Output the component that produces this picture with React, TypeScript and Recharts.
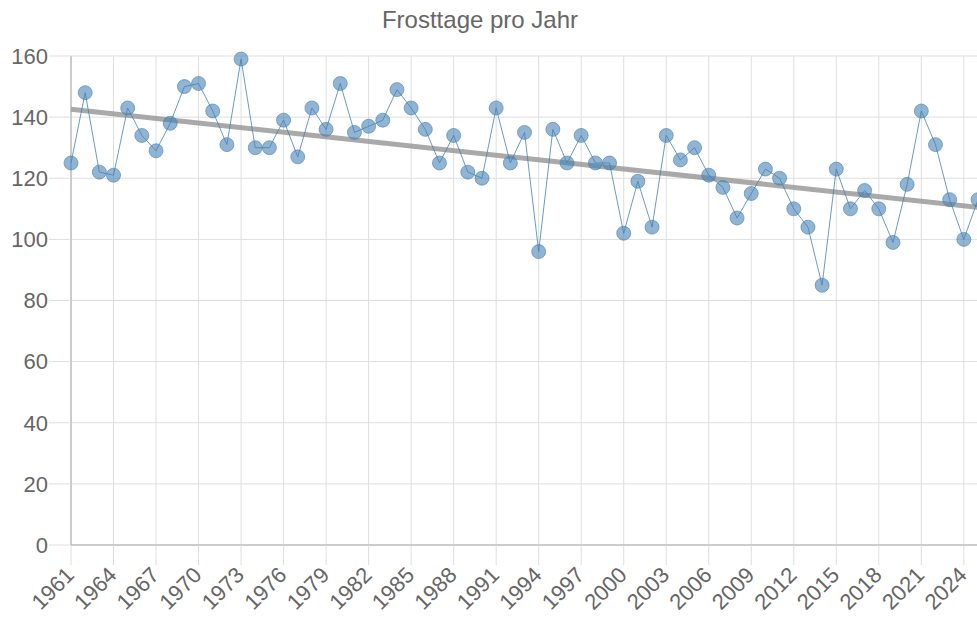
import React from 'react'
import { CartesianGrid, Line, LineChart, XAxis, YAxis } from 'recharts'

// Frosttage pro Jahr, 1961 - 2025
const years = [
  1961, 1962, 1963, 1964, 1965, 1966, 1967, 1968, 1969, 1970,
  1971, 1972, 1973, 1974, 1975, 1976, 1977, 1978, 1979, 1980,
  1981, 1982, 1983, 1984, 1985, 1986, 1987, 1988, 1989, 1990,
  1991, 1992, 1993, 1994, 1995, 1996, 1997, 1998, 1999, 2000,
  2001, 2002, 2003, 2004, 2005, 2006, 2007, 2008, 2009, 2010,
  2011, 2012, 2013, 2014, 2015, 2016, 2017, 2018, 2019, 2020,
  2021, 2022, 2023, 2024, 2025,
]

const frostDays = [
  125, 148, 122, 121, 143, 134, 129, 138, 150, 151,
  142, 131, 159, 130, 130, 139, 127, 143, 136, 151,
  135, 137, 139, 149, 143, 136, 125, 134, 122, 120,
  143, 125, 135, 96, 136, 125, 134, 125, 125, 102,
  119, 104, 134, 126, 130, 121, 117, 107, 115, 123,
  120, 110, 104, 85, 123, 110, 116, 110, 99, 118,
  142, 131, 113, 100, 113,
]

// linear trend, start and end
const trendYears = [1961, 2025]
const trendValues = [142.6, 110.5]

const xTicks = [
  1961, 1964, 1967, 1970, 1973, 1976, 1979, 1982, 1985, 1988, 1991,
  1994, 1997, 2000, 2003, 2006, 2009, 2012, 2015, 2018, 2021, 2024,
]
const yTicks = [0, 20, 40, 60, 80, 100, 120, 140, 160]

const data = years.map((year, i) => ({ year, days: frostDays[i] }))
const trendData = trendYears.map((year, i) => ({ year, trend: trendValues[i] }))

const font = '"Liberation Sans", Arial, sans-serif'

const YearTick = ({ x, y, payload }: any) => (
  <g transform={`translate(${x - 1},${y + 4}) rotate(-45)`}>
    <text x={0} y={0} dy="0.35em" textAnchor="end" fill="#666" fontSize={22} fontFamily={font}>
      {payload.value}
    </text>
  </g>
)

const App = () => {
  return (
    <div style={{ position: 'fixed', left: 0, top: 0, width: 977, height: 617, overflow: 'hidden', background: '#fff' }}>
      <div
        style={{
          position: 'absolute', left: 0, top: 5, width: 960, textAlign: 'center',
          fontFamily: font, fontSize: 24, lineHeight: '30px', color: '#666',
        }}
      >
        Frosttage pro Jahr
      </div>
      <LineChart width={1000} height={617} data={data} margin={{ top: 56, right: 22, bottom: 0, left: 0 }}>
        <CartesianGrid stroke="#dedede" strokeWidth={1} />
        <XAxis
          dataKey="year"
          type="number"
          domain={[1961, 2025]}
          ticks={xTicks}
          interval={0}
          height={72}
          tickSize={20}
          tickMargin={2}
          tick={<YearTick />}
          axisLine={{ stroke: '#a8a8a8' }}
          tickLine={{ stroke: '#dedede' }}
        />
        <YAxis
          domain={[0, 160]}
          ticks={yTicks}
          width={71}
          tickSize={22}
          tickMargin={1}
          tick={{ fill: '#666', fontSize: 22, fontFamily: font }}
          axisLine={{ stroke: '#a8a8a8' }}
          tickLine={{ stroke: '#dedede' }}
        />
        <Line
          data={trendData}
          dataKey="trend"
          type="linear"
          stroke="#9a9a9a"
          strokeOpacity={0.85}
          strokeWidth={5}
          dot={false}
          activeDot={false}
          isAnimationActive={false}
        />
        <Line
          dataKey="days"
          type="linear"
          stroke="#4682b4"
          strokeOpacity={0.8}
          strokeWidth={1}
          dot={{ r: 7, fill: 'rgba(70,130,180,0.6)', stroke: 'rgba(70,130,180,0.75)', strokeWidth: 1 }}
          activeDot={false}
          isAnimationActive={false}
        />
      </LineChart>
    </div>
  )
}

export default App
